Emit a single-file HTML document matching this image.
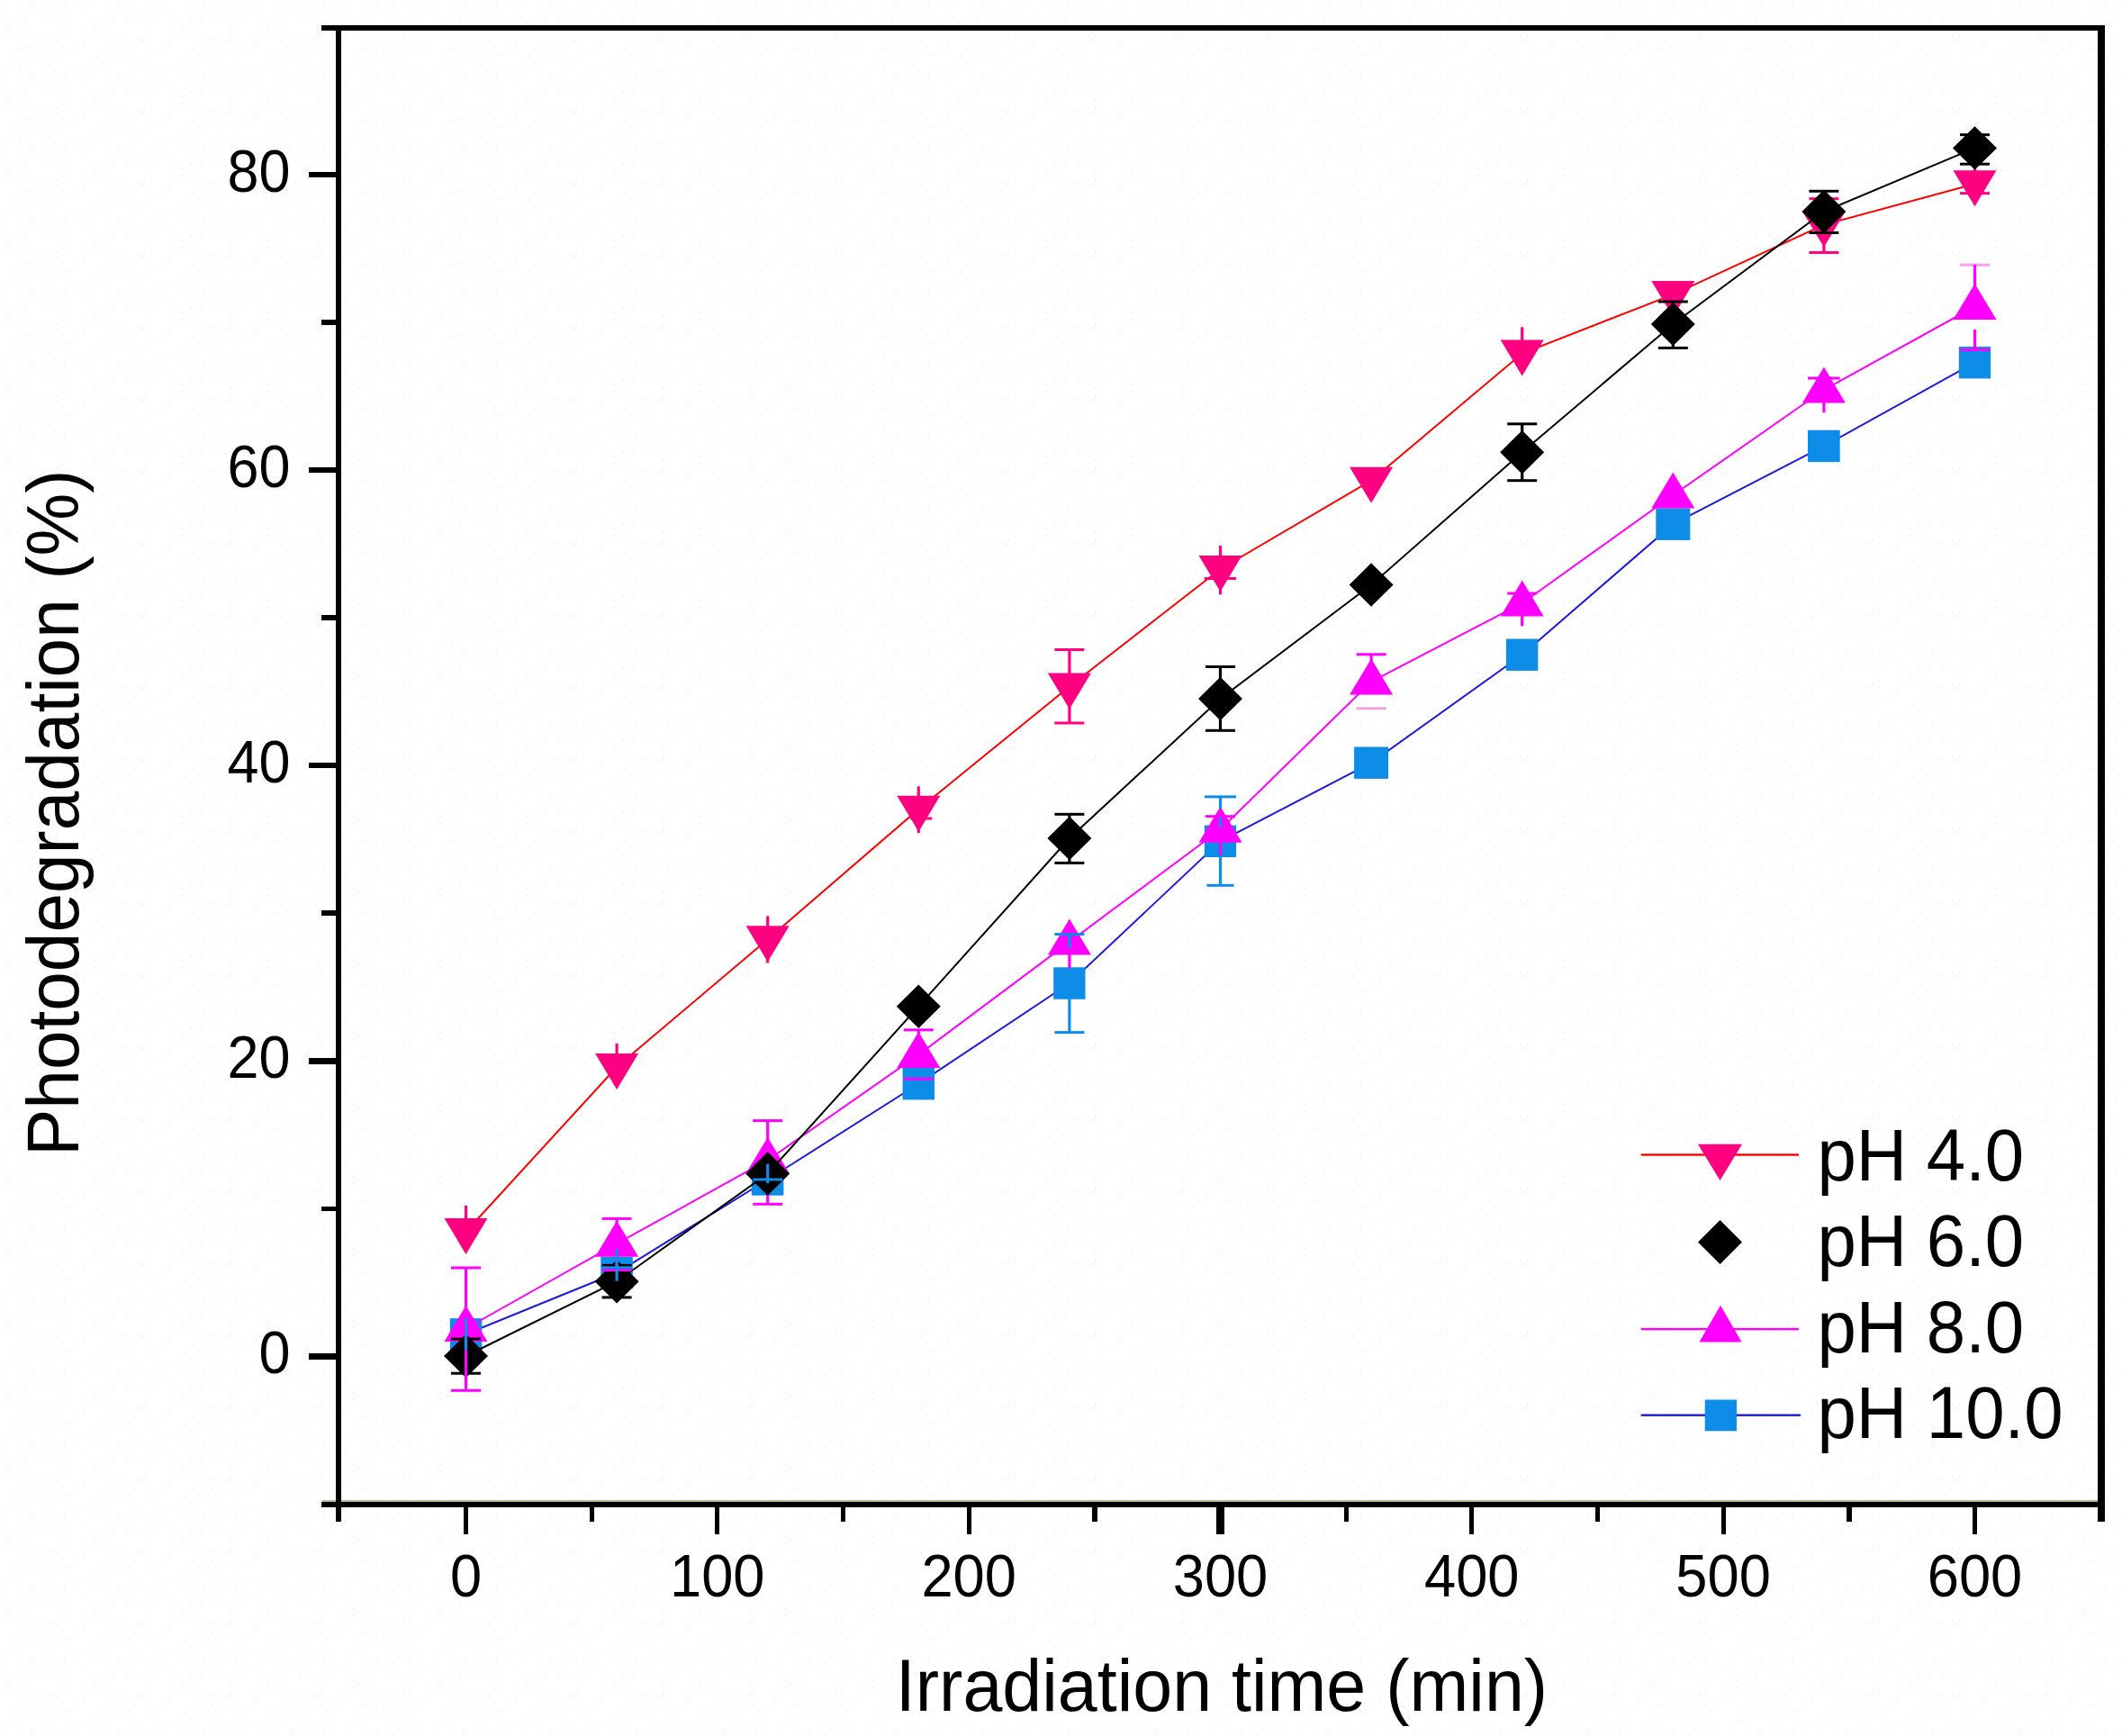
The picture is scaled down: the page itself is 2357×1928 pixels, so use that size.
<!DOCTYPE html>
<html lang="en">
<head>
<meta charset="utf-8">
<title>Photodegradation vs irradiation time</title>
<style>
html,body{margin:0;padding:0;background:#ffffff;}
body{width:2357px;height:1928px;overflow:hidden;}
svg{display:block;}
svg text{font-family:"Liberation Sans",sans-serif;fill:#000;}
</style>
</head>
<body>
<svg width="2357" height="1928" viewBox="0 0 2357 1928">
<defs><pattern id="dither" width="96" height="80" patternUnits="userSpaceOnUse" shape-rendering="crispEdges"><rect x="41" y="19" width="1" height="1" fill="#efffff"/><rect x="83" y="6" width="1" height="1" fill="#ffe3fa"/><rect x="68" y="12" width="1" height="1" fill="#efffff"/><rect x="74" y="7" width="1" height="1" fill="#efffff"/><rect x="27" y="4" width="1" height="1" fill="#ffe3fa"/><rect x="55" y="53" width="1" height="1" fill="#ffe3fa"/><rect x="30" y="11" width="1" height="1" fill="#efffff"/><rect x="54" y="7" width="1" height="1" fill="#eeffc0"/><rect x="15" y="28" width="1" height="1" fill="#eeffc0"/><rect x="80" y="74" width="1" height="1" fill="#ffe3fa"/><rect x="73" y="74" width="1" height="1" fill="#efffff"/><rect x="6" y="28" width="1" height="1" fill="#ffe3fa"/><rect x="71" y="17" width="1" height="1" fill="#efffff"/><rect x="53" y="18" width="1" height="1" fill="#efffff"/><rect x="15" y="73" width="1" height="1" fill="#efffff"/><rect x="71" y="23" width="1" height="1" fill="#ffe3fa"/><rect x="74" y="73" width="1" height="1" fill="#eeffc0"/><rect x="24" y="47" width="1" height="1" fill="#ffe3fa"/><rect x="70" y="8" width="1" height="1" fill="#eeffc0"/><rect x="7" y="79" width="1" height="1" fill="#ffe3fa"/><rect x="63" y="68" width="1" height="1" fill="#efffff"/><rect x="40" y="59" width="1" height="1" fill="#eeffc0"/><rect x="58" y="46" width="1" height="1" fill="#efffff"/><rect x="31" y="23" width="1" height="1" fill="#dcece1"/><rect x="31" y="10" width="1" height="1" fill="#eeffc0"/><rect x="38" y="67" width="1" height="1" fill="#efffff"/><rect x="43" y="57" width="1" height="1" fill="#efffff"/><rect x="77" y="9" width="1" height="1" fill="#ffe3fa"/><rect x="65" y="53" width="1" height="1" fill="#ffe3fa"/><rect x="43" y="19" width="1" height="1" fill="#efffff"/><rect x="53" y="5" width="1" height="1" fill="#dcece1"/><rect x="9" y="71" width="1" height="1" fill="#eeffc0"/><rect x="40" y="43" width="1" height="1" fill="#dcece1"/><rect x="44" y="76" width="1" height="1" fill="#efffff"/><rect x="74" y="58" width="1" height="1" fill="#ffe3fa"/><rect x="11" y="34" width="1" height="1" fill="#efffff"/><rect x="89" y="8" width="1" height="1" fill="#ffe3fa"/><rect x="93" y="39" width="1" height="1" fill="#eeffc0"/><rect x="73" y="57" width="1" height="1" fill="#efffff"/><rect x="91" y="49" width="1" height="1" fill="#dcece1"/><rect x="44" y="2" width="1" height="1" fill="#efffff"/><rect x="45" y="21" width="1" height="1" fill="#eeffc0"/><rect x="14" y="63" width="1" height="1" fill="#ffe3fa"/><rect x="27" y="36" width="1" height="1" fill="#ffe3fa"/><rect x="94" y="31" width="1" height="1" fill="#efffff"/><rect x="50" y="63" width="1" height="1" fill="#ffe3fa"/><rect x="21" y="57" width="1" height="1" fill="#efffff"/><rect x="70" y="35" width="1" height="1" fill="#ffe3fa"/><rect x="55" y="70" width="1" height="1" fill="#ffe3fa"/><rect x="90" y="53" width="1" height="1" fill="#efffff"/><rect x="87" y="48" width="1" height="1" fill="#ffe3fa"/><rect x="19" y="10" width="1" height="1" fill="#ffe3fa"/><rect x="19" y="29" width="1" height="1" fill="#dcece1"/><rect x="29" y="1" width="1" height="1" fill="#efffff"/><rect x="75" y="23" width="1" height="1" fill="#ffe3fa"/><rect x="36" y="0" width="1" height="1" fill="#ffe3fa"/><rect x="53" y="68" width="1" height="1" fill="#efffff"/><rect x="78" y="72" width="1" height="1" fill="#efffff"/><rect x="16" y="65" width="1" height="1" fill="#eeffc0"/><rect x="58" y="71" width="1" height="1" fill="#efffff"/><rect x="50" y="51" width="1" height="1" fill="#efffff"/><rect x="13" y="61" width="1" height="1" fill="#eeffc0"/><rect x="51" y="7" width="1" height="1" fill="#ffe3fa"/><rect x="8" y="26" width="1" height="1" fill="#efffff"/><rect x="20" y="14" width="1" height="1" fill="#efffff"/><rect x="76" y="6" width="1" height="1" fill="#ffe3fa"/><rect x="0" y="72" width="1" height="1" fill="#ffe3fa"/><rect x="46" y="78" width="1" height="1" fill="#ffe3fa"/><rect x="9" y="26" width="1" height="1" fill="#eeffc0"/><rect x="48" y="19" width="1" height="1" fill="#eeffc0"/><rect x="32" y="44" width="1" height="1" fill="#eeffc0"/><rect x="46" y="60" width="1" height="1" fill="#ffe3fa"/><rect x="14" y="62" width="1" height="1" fill="#efffff"/><rect x="61" y="61" width="1" height="1" fill="#efffff"/><rect x="10" y="18" width="1" height="1" fill="#ffe3fa"/><rect x="95" y="43" width="1" height="1" fill="#dcece1"/><rect x="33" y="61" width="1" height="1" fill="#dcece1"/><rect x="20" y="66" width="1" height="1" fill="#ffe3fa"/><rect x="26" y="67" width="1" height="1" fill="#efffff"/><rect x="18" y="69" width="1" height="1" fill="#ffe3fa"/><rect x="67" y="38" width="1" height="1" fill="#eeffc0"/><rect x="11" y="33" width="1" height="1" fill="#efffff"/><rect x="46" y="21" width="1" height="1" fill="#efffff"/><rect x="28" y="68" width="1" height="1" fill="#efffff"/><rect x="64" y="42" width="1" height="1" fill="#eeffc0"/><rect x="28" y="78" width="1" height="1" fill="#ffe3fa"/><rect x="30" y="51" width="1" height="1" fill="#dcece1"/><rect x="29" y="25" width="1" height="1" fill="#efffff"/><rect x="63" y="45" width="1" height="1" fill="#dcece1"/><rect x="3" y="3" width="1" height="1" fill="#ffe3fa"/><rect x="60" y="33" width="1" height="1" fill="#ffe3fa"/><rect x="88" y="77" width="1" height="1" fill="#efffff"/><rect x="57" y="44" width="1" height="1" fill="#efffff"/><rect x="10" y="28" width="1" height="1" fill="#ffe3fa"/><rect x="29" y="60" width="1" height="1" fill="#ffe3fa"/><rect x="43" y="26" width="1" height="1" fill="#efffff"/><rect x="79" y="78" width="1" height="1" fill="#ffe3fa"/><rect x="61" y="44" width="1" height="1" fill="#eeffc0"/><rect x="10" y="15" width="1" height="1" fill="#efffff"/><rect x="91" y="25" width="1" height="1" fill="#efffff"/><rect x="22" y="55" width="1" height="1" fill="#eeffc0"/><rect x="42" y="11" width="1" height="1" fill="#dcece1"/><rect x="50" y="59" width="1" height="1" fill="#efffff"/><rect x="95" y="10" width="1" height="1" fill="#dcece1"/><rect x="20" y="21" width="1" height="1" fill="#ffe3fa"/><rect x="3" y="19" width="1" height="1" fill="#eeffc0"/><rect x="59" y="18" width="1" height="1" fill="#eeffc0"/><rect x="76" y="60" width="1" height="1" fill="#dcece1"/><rect x="44" y="19" width="1" height="1" fill="#efffff"/><rect x="70" y="16" width="1" height="1" fill="#ffe3fa"/><rect x="1" y="13" width="1" height="1" fill="#efffff"/><rect x="95" y="17" width="1" height="1" fill="#efffff"/><rect x="24" y="27" width="1" height="1" fill="#ffe3fa"/><rect x="32" y="27" width="1" height="1" fill="#efffff"/><rect x="64" y="30" width="1" height="1" fill="#eeffc0"/><rect x="41" y="33" width="1" height="1" fill="#efffff"/><rect x="53" y="16" width="1" height="1" fill="#ffe3fa"/><rect x="94" y="45" width="1" height="1" fill="#efffff"/><rect x="84" y="74" width="1" height="1" fill="#efffff"/><rect x="53" y="64" width="1" height="1" fill="#ffe3fa"/><rect x="68" y="19" width="1" height="1" fill="#efffff"/><rect x="65" y="2" width="1" height="1" fill="#efffff"/><rect x="23" y="77" width="1" height="1" fill="#ffe3fa"/><rect x="19" y="22" width="1" height="1" fill="#ffe3fa"/><rect x="60" y="79" width="1" height="1" fill="#dcece1"/><rect x="15" y="71" width="1" height="1" fill="#ffe3fa"/><rect x="41" y="66" width="1" height="1" fill="#efffff"/><rect x="71" y="61" width="1" height="1" fill="#ffe3fa"/><rect x="71" y="7" width="1" height="1" fill="#ffe3fa"/><rect x="24" y="35" width="1" height="1" fill="#ffe3fa"/><rect x="12" y="64" width="1" height="1" fill="#efffff"/><rect x="71" y="3" width="1" height="1" fill="#ffe3fa"/><rect x="56" y="41" width="1" height="1" fill="#eeffc0"/><rect x="64" y="77" width="1" height="1" fill="#efffff"/><rect x="25" y="35" width="1" height="1" fill="#efffff"/><rect x="65" y="68" width="1" height="1" fill="#efffff"/><rect x="64" y="31" width="1" height="1" fill="#dcece1"/><rect x="66" y="33" width="1" height="1" fill="#efffff"/><rect x="25" y="57" width="1" height="1" fill="#ffe3fa"/><rect x="53" y="15" width="1" height="1" fill="#efffff"/><rect x="56" y="40" width="1" height="1" fill="#ffe3fa"/><rect x="85" y="30" width="1" height="1" fill="#efffff"/><rect x="9" y="27" width="1" height="1" fill="#dcece1"/><rect x="38" y="15" width="1" height="1" fill="#ffe3fa"/><rect x="91" y="46" width="1" height="1" fill="#ffe3fa"/><rect x="32" y="17" width="1" height="1" fill="#efffff"/><rect x="28" y="12" width="1" height="1" fill="#efffff"/><rect x="62" y="20" width="1" height="1" fill="#dcece1"/><rect x="28" y="20" width="1" height="1" fill="#dcece1"/><rect x="55" y="65" width="1" height="1" fill="#efffff"/><rect x="43" y="53" width="1" height="1" fill="#ffe3fa"/><rect x="45" y="40" width="1" height="1" fill="#ffe3fa"/><rect x="92" y="46" width="1" height="1" fill="#ffe3fa"/><rect x="43" y="70" width="1" height="1" fill="#efffff"/><rect x="56" y="2" width="1" height="1" fill="#efffff"/><rect x="42" y="66" width="1" height="1" fill="#eeffc0"/><rect x="37" y="65" width="1" height="1" fill="#ffe3fa"/><rect x="14" y="29" width="1" height="1" fill="#ffe3fa"/><rect x="10" y="33" width="1" height="1" fill="#ffe3fa"/><rect x="5" y="23" width="1" height="1" fill="#ffe3fa"/><rect x="16" y="54" width="1" height="1" fill="#dcece1"/><rect x="33" y="51" width="1" height="1" fill="#ffe3fa"/><rect x="68" y="65" width="1" height="1" fill="#eeffc0"/><rect x="63" y="41" width="1" height="1" fill="#ffe3fa"/><rect x="35" y="7" width="1" height="1" fill="#dcece1"/><rect x="23" y="54" width="1" height="1" fill="#ffe3fa"/><rect x="34" y="2" width="1" height="1" fill="#eeffc0"/><rect x="10" y="77" width="1" height="1" fill="#ffe3fa"/><rect x="8" y="33" width="1" height="1" fill="#ffe3fa"/><rect x="58" y="1" width="1" height="1" fill="#efffff"/><rect x="70" y="53" width="1" height="1" fill="#ffe3fa"/><rect x="79" y="16" width="1" height="1" fill="#ffe3fa"/><rect x="67" y="30" width="1" height="1" fill="#ffe3fa"/><rect x="20" y="33" width="1" height="1" fill="#ffe3fa"/><rect x="23" y="25" width="1" height="1" fill="#efffff"/><rect x="80" y="39" width="1" height="1" fill="#efffff"/><rect x="26" y="37" width="1" height="1" fill="#efffff"/><rect x="64" y="22" width="1" height="1" fill="#ffe3fa"/><rect x="32" y="4" width="1" height="1" fill="#ffe3fa"/><rect x="2" y="64" width="1" height="1" fill="#efffff"/><rect x="24" y="65" width="1" height="1" fill="#efffff"/><rect x="31" y="57" width="1" height="1" fill="#ffe3fa"/><rect x="84" y="55" width="1" height="1" fill="#dcece1"/><rect x="63" y="69" width="1" height="1" fill="#efffff"/><rect x="64" y="39" width="1" height="1" fill="#dcece1"/><rect x="27" y="29" width="1" height="1" fill="#efffff"/><rect x="25" y="17" width="1" height="1" fill="#efffff"/><rect x="44" y="6" width="1" height="1" fill="#ffe3fa"/><rect x="1" y="9" width="1" height="1" fill="#eeffc0"/><rect x="94" y="32" width="1" height="1" fill="#efffff"/><rect x="20" y="7" width="1" height="1" fill="#ffe3fa"/><rect x="85" y="48" width="1" height="1" fill="#efffff"/><rect x="85" y="36" width="1" height="1" fill="#eeffc0"/><rect x="31" y="37" width="1" height="1" fill="#ffe3fa"/><rect x="58" y="23" width="1" height="1" fill="#ffe3fa"/><rect x="34" y="57" width="1" height="1" fill="#ffe3fa"/><rect x="33" y="46" width="1" height="1" fill="#efffff"/><rect x="70" y="41" width="1" height="1" fill="#ffe3fa"/><rect x="4" y="39" width="1" height="1" fill="#ffe3fa"/><rect x="45" y="23" width="1" height="1" fill="#ffe3fa"/><rect x="42" y="48" width="1" height="1" fill="#ffe3fa"/><rect x="60" y="35" width="1" height="1" fill="#efffff"/><rect x="83" y="25" width="1" height="1" fill="#ffe3fa"/><rect x="64" y="0" width="1" height="1" fill="#ffe3fa"/><rect x="33" y="11" width="1" height="1" fill="#ffe3fa"/></pattern></defs>
<rect x="0" y="0" width="2357" height="1928" fill="#ffffff"/>
<rect x="0" y="0" width="2357" height="1928" fill="url(#dither)"/>
<g id="series">
<polyline points="517.5,1368.0 685.1,1185.0 852.7,1043.2 1020.3,898.7 1187.9,762.5 1355.5,632.0 1523.1,533.7 1690.7,392.5 1858.3,327.1 2025.9,249.6 2193.5,204.3" fill="none" stroke="#ff0000" stroke-width="2.0"/>
<polygon points="493.5,1353.0 541.5,1353.0 517.5,1393.0" fill="#ff0080"/>
<polygon points="661.1,1170.0 709.1,1170.0 685.1,1210.0" fill="#ff0080"/>
<polygon points="828.7,1028.2 876.7,1028.2 852.7,1068.2" fill="#ff0080"/>
<polygon points="996.3,883.7 1044.3,883.7 1020.3,923.7" fill="#ff0080"/>
<polygon points="1163.9,747.5 1211.9,747.5 1187.9,787.5" fill="#ff0080"/>
<polygon points="1331.5,617.0 1379.5,617.0 1355.5,657.0" fill="#ff0080"/>
<polygon points="1499.1,518.7 1547.1,518.7 1523.1,558.7" fill="#ff0080"/>
<polygon points="1666.7,377.5 1714.7,377.5 1690.7,417.5" fill="#ff0080"/>
<polygon points="1834.3,312.1 1882.3,312.1 1858.3,352.1" fill="#ff0080"/>
<polygon points="2001.9,234.6 2049.9,234.6 2025.9,274.6" fill="#ff0080"/>
<polygon points="2169.5,189.3 2217.5,189.3 2193.5,229.3" fill="#ff0080"/>
<rect x="515.9" y="1339.0" width="3.2" height="15.0" fill="#ff0080"/>
<rect x="683.5" y="1159.0" width="3.2" height="12.0" fill="#ff0080"/>
<rect x="851.1" y="1017.4" width="3.2" height="52.1" fill="#ff0080"/>
<rect x="841.7" y="1046.1" width="22.0" height="3.0" fill="#ff0080"/>
<rect x="1018.7" y="873.3" width="3.2" height="51.7" fill="#ff0080"/>
<rect x="1011.3" y="907.5" width="24.0" height="3.0" fill="#ff0080"/>
<rect x="1186.3" y="721.5" width="3.2" height="81.5" fill="#ff0080"/>
<rect x="1171.4" y="720.0" width="33.0" height="3.0" fill="#ff0080"/>
<rect x="1171.4" y="801.5" width="33.0" height="3.0" fill="#ff0080"/>
<rect x="1353.9" y="606.0" width="3.2" height="54.3" fill="#ff0080"/>
<rect x="1338.0" y="641.0" width="35.0" height="3.0" fill="#ff0080"/>
<rect x="1689.1" y="363.3" width="3.2" height="14.7" fill="#ff0080"/>
<rect x="2024.3" y="220.7" width="3.2" height="59.8" fill="#ff0080"/>
<rect x="2009.4" y="219.2" width="33.0" height="3.0" fill="#ff0080"/>
<rect x="2009.4" y="279.0" width="33.0" height="3.0" fill="#ff0080"/>
<rect x="2191.9" y="179.4" width="3.2" height="35.3" fill="#ff0080"/>
<rect x="2177.0" y="213.2" width="33.0" height="3.0" fill="#ff0080"/>
<polyline points="517.5,1481.8 685.1,1413.5 852.7,1310.0 1020.3,1203.7 1187.9,1092.0 1355.5,934.3 1523.1,847.2 1690.7,727.2 1858.3,582.2 2025.9,495.4 2193.5,402.7" fill="none" stroke="#1c1ce0" stroke-width="2.0"/>
<rect x="499.8" y="1464.1" width="35.5" height="35.4" fill="#0d8ce8"/>
<rect x="667.3" y="1395.8" width="35.5" height="35.4" fill="#0d8ce8"/>
<rect x="834.9" y="1292.3" width="35.5" height="35.4" fill="#0d8ce8"/>
<rect x="1002.6" y="1186.0" width="35.4" height="35.4" fill="#0d8ce8"/>
<rect x="1170.2" y="1074.3" width="35.3" height="35.4" fill="#0d8ce8"/>
<rect x="1337.8" y="916.6" width="35.3" height="35.4" fill="#0d8ce8"/>
<rect x="1504.1" y="829.5" width="38.0" height="35.4" fill="#0d8ce8"/>
<rect x="1672.9" y="709.5" width="35.5" height="35.4" fill="#0d8ce8"/>
<rect x="1839.3" y="564.5" width="38.0" height="35.4" fill="#0d8ce8"/>
<rect x="2008.0" y="477.7" width="35.7" height="35.4" fill="#0d8ce8"/>
<rect x="2175.8" y="385.0" width="35.3" height="35.4" fill="#0d8ce8"/>
<polyline points="517.5,1475.5 685.1,1381.2 852.7,1288.5 1020.3,1171.4 1187.9,1046.1 1355.5,921.2 1523.1,757.1 1690.7,670.0 1858.3,550.0 2025.9,433.0 2193.5,340.5" fill="none" stroke="#ff00ff" stroke-width="2.0"/>
<rect x="851.1" y="1244.6" width="3.2" height="92.7" fill="#ff00ff"/>
<polygon points="493.5,1490.0 541.5,1490.0 517.5,1450.0" fill="#ff00ff"/>
<polygon points="661.1,1395.7 709.1,1395.7 685.1,1355.7" fill="#ff00ff"/>
<polygon points="828.7,1303.0 876.7,1303.0 852.7,1263.0" fill="#ff00ff"/>
<polygon points="996.3,1185.9 1044.3,1185.9 1020.3,1145.9" fill="#ff00ff"/>
<polygon points="1163.9,1060.6 1211.9,1060.6 1187.9,1020.6" fill="#ff00ff"/>
<polygon points="1331.5,935.7 1379.5,935.7 1355.5,895.7" fill="#ff00ff"/>
<polygon points="1499.1,771.6 1547.1,771.6 1523.1,731.6" fill="#ff00ff"/>
<polygon points="1666.7,684.5 1714.7,684.5 1690.7,644.5" fill="#ff00ff"/>
<polygon points="1834.3,564.5 1882.3,564.5 1858.3,524.5" fill="#ff00ff"/>
<polygon points="2001.9,447.5 2049.9,447.5 2025.9,407.5" fill="#ff00ff"/>
<polygon points="2169.5,355.0 2217.5,355.0 2193.5,315.0" fill="#ff00ff"/>
<polyline points="517.5,1506.0 685.1,1423.2 852.7,1303.5 1020.3,1117.7 1187.9,931.0 1355.5,776.0 1523.1,649.5 1690.7,502.3 1858.3,360.0 2025.9,235.0 2193.5,164.4" fill="none" stroke="#000000" stroke-width="2.0"/>
<polygon points="493.0,1506.0 517.5,1481.8 542.0,1506.0 517.5,1530.2" fill="#000000"/>
<polygon points="660.6,1423.2 685.1,1399.0 709.6,1423.2 685.1,1447.4" fill="#000000"/>
<polygon points="828.2,1303.5 852.7,1279.3 877.2,1303.5 852.7,1327.7" fill="#000000"/>
<polygon points="995.8,1117.7 1020.3,1093.5 1044.8,1117.7 1020.3,1141.9" fill="#000000"/>
<polygon points="1163.4,931.0 1187.9,906.8 1212.4,931.0 1187.9,955.2" fill="#000000"/>
<polygon points="1331.0,776.0 1355.5,751.8 1380.0,776.0 1355.5,800.2" fill="#000000"/>
<polygon points="1498.6,649.5 1523.1,625.3 1547.6,649.5 1523.1,673.7" fill="#000000"/>
<polygon points="1666.2,502.3 1690.7,478.1 1715.2,502.3 1690.7,526.5" fill="#000000"/>
<polygon points="1833.8,360.0 1858.3,335.8 1882.8,360.0 1858.3,384.2" fill="#000000"/>
<polygon points="2001.4,235.0 2025.9,210.8 2050.4,235.0 2025.9,259.2" fill="#000000"/>
<polygon points="2169.0,164.4 2193.5,140.2 2218.0,164.4 2193.5,188.6" fill="#000000"/>
</g>
<g id="errors">
<rect x="515.9" y="1487.0" width="3.2" height="38.2" fill="#000000"/>
<rect x="501.0" y="1485.5" width="33.0" height="3.0" fill="#000000"/>
<rect x="501.0" y="1523.7" width="33.0" height="3.0" fill="#000000"/>
<rect x="683.5" y="1405.4" width="3.2" height="35.5" fill="#000000"/>
<rect x="668.6" y="1403.9" width="33.0" height="3.0" fill="#000000"/>
<rect x="668.6" y="1439.4" width="33.0" height="3.0" fill="#000000"/>
<rect x="1186.3" y="904.3" width="3.2" height="54.1" fill="#000000"/>
<rect x="1171.4" y="902.8" width="33.0" height="3.0" fill="#000000"/>
<rect x="1171.4" y="956.9" width="33.0" height="3.0" fill="#000000"/>
<rect x="1353.9" y="740.5" width="3.2" height="70.8" fill="#000000"/>
<rect x="1339.0" y="739.0" width="33.0" height="3.0" fill="#000000"/>
<rect x="1339.0" y="809.8" width="33.0" height="3.0" fill="#000000"/>
<rect x="1689.1" y="470.8" width="3.2" height="62.9" fill="#000000"/>
<rect x="1674.2" y="469.3" width="33.0" height="3.0" fill="#000000"/>
<rect x="1674.2" y="532.2" width="33.0" height="3.0" fill="#000000"/>
<rect x="1856.7" y="335.0" width="3.2" height="51.4" fill="#000000"/>
<rect x="1841.8" y="333.5" width="33.0" height="3.0" fill="#000000"/>
<rect x="1841.8" y="384.9" width="33.0" height="3.0" fill="#000000"/>
<rect x="2024.3" y="212.3" width="3.2" height="46.2" fill="#000000"/>
<rect x="2009.4" y="210.8" width="33.0" height="3.0" fill="#000000"/>
<rect x="2009.4" y="257.0" width="33.0" height="3.0" fill="#000000"/>
<rect x="2191.9" y="149.7" width="3.2" height="32.5" fill="#000000"/>
<rect x="2177.0" y="148.2" width="33.0" height="3.0" fill="#000000"/>
<rect x="2177.0" y="180.7" width="33.0" height="3.0" fill="#000000"/>
<rect x="515.9" y="1408.0" width="3.2" height="136.3" fill="#ff00ff"/>
<rect x="501.0" y="1406.5" width="33.0" height="3.0" fill="#ff00ff"/>
<rect x="501.0" y="1542.8" width="33.0" height="3.0" fill="#ff00ff"/>
<rect x="683.5" y="1353.4" width="3.2" height="57.2" fill="#ff00ff"/>
<rect x="668.6" y="1351.9" width="33.0" height="3.0" fill="#ff00ff"/>
<rect x="668.6" y="1409.1" width="33.0" height="3.0" fill="#ff00ff"/>
<rect x="836.2" y="1243.1" width="33.0" height="3.0" fill="#ff00ff"/>
<rect x="836.2" y="1335.8" width="33.0" height="3.0" fill="#ff00ff"/>
<rect x="1018.7" y="1143.8" width="3.2" height="6.2" fill="#ff00ff"/>
<rect x="1003.8" y="1142.3" width="33.0" height="3.0" fill="#ff00ff"/>
<rect x="1003.8" y="1196.7" width="33.0" height="3.0" fill="#ff00ff"/>
<rect x="1186.3" y="1060.0" width="3.2" height="15.0" fill="#ff00ff"/>
<rect x="1339.0" y="905.2" width="33.0" height="3.0" fill="#ff00ff"/>
<rect x="1353.9" y="935.0" width="3.2" height="14.4" fill="#ff00ff"/>
<rect x="1506.6" y="725.3" width="33.0" height="3.0" fill="#ff00ff"/>
<rect x="1521.5" y="726.8" width="3.2" height="8.2" fill="#ff00ff"/>
<rect x="1506.6" y="785.3" width="33.0" height="3.0" fill="#eba4dc"/>
<rect x="1674.2" y="657.5" width="33.0" height="3.0" fill="#ff00ff"/>
<rect x="1689.1" y="684.0" width="3.2" height="11.3" fill="#ff00ff"/>
<rect x="2008.0" y="418.5" width="35.7" height="3.0" fill="#ff00ff"/>
<rect x="2024.3" y="447.0" width="3.2" height="11.3" fill="#ff00ff"/>
<rect x="2177.0" y="292.7" width="33.0" height="3.0" fill="#ff9cf4"/>
<rect x="2191.9" y="294.2" width="3.2" height="25.8" fill="#ff00ff"/>
<rect x="2191.9" y="366.0" width="3.2" height="22.5" fill="#ff00ff"/>
<rect x="2177.0" y="387.0" width="33.0" height="3.0" fill="#ff00ff"/>
<rect x="515.9" y="1464.0" width="3.2" height="35.2" fill="#0d8ce8"/>
<rect x="683.5" y="1387.7" width="3.2" height="35.0" fill="#0d8ce8"/>
<rect x="668.6" y="1406.3" width="33.0" height="3.0" fill="#0d8ce8"/>
<rect x="851.1" y="1292.6" width="3.2" height="21.4" fill="#0d8ce8"/>
<rect x="836.2" y="1308.5" width="33.0" height="3.0" fill="#0d8ce8"/>
<rect x="1171.4" y="1036.1" width="33.0" height="3.0" fill="#0d8ce8"/>
<rect x="1186.3" y="1037.6" width="3.2" height="15.2" fill="#0d8ce8"/>
<rect x="1186.3" y="1109.0" width="3.2" height="37.6" fill="#0d8ce8"/>
<rect x="1171.4" y="1145.1" width="33.0" height="3.0" fill="#0d8ce8"/>
<rect x="1338.0" y="883.4" width="35.0" height="3.0" fill="#0d8ce8"/>
<rect x="1353.9" y="884.9" width="3.2" height="13.1" fill="#0d8ce8"/>
<rect x="1353.9" y="908.0" width="3.2" height="11.0" fill="#0d8ce8"/>
<rect x="1353.9" y="951.0" width="3.2" height="32.3" fill="#0d8ce8"/>
<rect x="1340.5" y="981.8" width="30.0" height="3.0" fill="#0d8ce8"/>
</g>
<g id="axes" shape-rendering="crispEdges">
<rect x="356.5" y="28.0" width="1981.0" height="5.7" fill="#000"/>
<rect x="358.0" y="1665.9" width="1972.0" height="2.1" fill="#b9b597"/>
<rect x="356.5" y="1668.0" width="1981.0" height="5.6" fill="#000"/>
<rect x="373.0" y="28.0" width="5.6" height="1662.0" fill="#000"/>
<rect x="2330.0" y="28.0" width="7.5" height="1662.0" fill="#000"/>
<rect x="343.0" y="1502.8" width="31.0" height="7.4" fill="#000"/>
<rect x="343.0" y="1175.3" width="31.0" height="6.2" fill="#000"/>
<rect x="343.0" y="847.2" width="31.0" height="6.2" fill="#000"/>
<rect x="343.0" y="519.0" width="31.0" height="6.2" fill="#000"/>
<rect x="343.0" y="190.9" width="31.0" height="6.2" fill="#000"/>
<rect x="357.0" y="1339.5" width="17.0" height="5.8" fill="#000"/>
<rect x="357.0" y="1011.4" width="17.0" height="5.8" fill="#000"/>
<rect x="357.0" y="683.3" width="17.0" height="5.8" fill="#000"/>
<rect x="357.0" y="355.2" width="17.0" height="5.8" fill="#000"/>
<rect x="514.9" y="1672.0" width="5.2" height="32.0" fill="#000"/>
<rect x="794.2" y="1672.0" width="5.2" height="32.0" fill="#000"/>
<rect x="1073.6" y="1672.0" width="5.2" height="32.0" fill="#000"/>
<rect x="1351.2" y="1672.0" width="8.6" height="32.0" fill="#000"/>
<rect x="1632.2" y="1672.0" width="5.2" height="32.0" fill="#000"/>
<rect x="1911.5" y="1672.0" width="5.2" height="32.0" fill="#000"/>
<rect x="2190.9" y="1672.0" width="5.2" height="32.0" fill="#000"/>
<rect x="654.5" y="1672.0" width="5.4" height="18.0" fill="#000"/>
<rect x="933.8" y="1672.0" width="5.4" height="18.0" fill="#000"/>
<rect x="1213.1" y="1672.0" width="5.4" height="18.0" fill="#000"/>
<rect x="1492.5" y="1672.0" width="5.4" height="18.0" fill="#000"/>
<rect x="1771.8" y="1672.0" width="5.4" height="18.0" fill="#000"/>
<rect x="2051.1" y="1672.0" width="5.4" height="18.0" fill="#000"/>
</g>
<g id="labels">
<text transform="translate(322.5,1525.0) scale(1.015,1.085)" text-anchor="end" font-size="62">0</text>
<text transform="translate(322.5,1196.9) scale(1.015,1.085)" text-anchor="end" font-size="62">20</text>
<text transform="translate(322.5,868.8) scale(1.015,1.085)" text-anchor="end" font-size="62">40</text>
<text transform="translate(322.5,540.6) scale(1.015,1.085)" text-anchor="end" font-size="62">60</text>
<text transform="translate(322.5,212.5) scale(1.015,1.085)" text-anchor="end" font-size="62">80</text>
<text transform="translate(517.5,1773.3) scale(1.02,1.085)" text-anchor="middle" font-size="62">0</text>
<text transform="translate(796.8,1773.3) scale(1.02,1.085)" text-anchor="middle" font-size="62">100</text>
<text transform="translate(1076.2,1773.3) scale(1.02,1.085)" text-anchor="middle" font-size="62">200</text>
<text transform="translate(1355.5,1773.3) scale(1.02,1.085)" text-anchor="middle" font-size="62">300</text>
<text transform="translate(1634.8,1773.3) scale(1.02,1.085)" text-anchor="middle" font-size="62">400</text>
<text transform="translate(1914.1,1773.3) scale(1.02,1.085)" text-anchor="middle" font-size="62">500</text>
<text transform="translate(2193.5,1773.3) scale(1.02,1.085)" text-anchor="middle" font-size="62">600</text>
<text transform="translate(1357,1899.6) scale(1,1.025)" text-anchor="middle" font-size="79">Irradiation time (min)</text>
<text transform="translate(87.3,902.8) rotate(-90) scale(0.992,1.03)" text-anchor="middle" font-size="79">Photodegradation (%)</text>
</g>
<g id="legend">
<rect x="1822.7" y="1281.3" width="175.3" height="2.4" fill="#ff0000"/>
<polygon points="1886.0,1270.8 1935.0,1270.8 1910.5,1311" fill="#ff0080"/>
<polygon points="1886.0,1379.6 1910.5,1355.1 1935.0,1379.6 1910.5,1404.1" fill="#000"/>
<rect x="1822.7" y="1474.9" width="175.3" height="2.4" fill="#ff00ff"/>
<polygon points="1887.5,1490.6 1934.5,1490.6 1911.0,1449.8" fill="#ff00ff"/>
<rect x="1822.7" y="1570.5" width="177.3" height="2.4" fill="#1c1ce0"/>
<rect x="1893.7" y="1554.5" width="35.3" height="34.8" fill="#0d8ce8"/>
<text transform="translate(2018.5,1311.1) scale(0.987,1.04)" font-size="79">pH 4.0</text>
<text transform="translate(2018.5,1406.3) scale(0.987,1.04)" font-size="79">pH 6.0</text>
<text transform="translate(2018.5,1502.0) scale(0.987,1.04)" font-size="79">pH 8.0</text>
<text transform="translate(2018.5,1597.4) scale(0.987,1.04)" font-size="79">pH 10.0</text>
</g>
</svg>
</body>
</html>
